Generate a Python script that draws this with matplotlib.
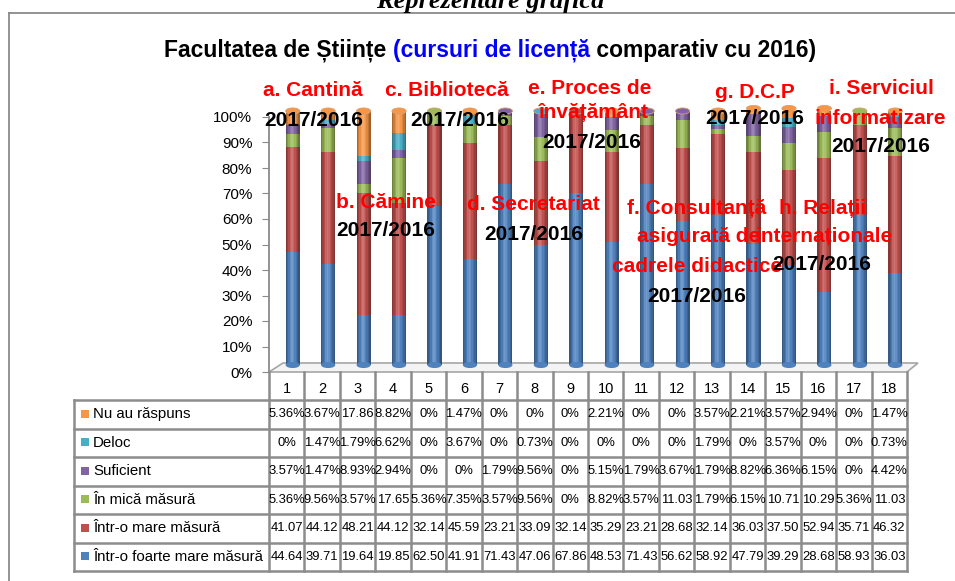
import numpy as np
import matplotlib.pyplot as plt
from matplotlib.patches import Ellipse, Polygon, Rectangle

W, H = 955, 581

categories = [str(i) for i in range(1, 19)]

# values in %
nu_au_raspuns = [5.36, 3.67, 17.86, 8.82, 0, 1.47, 0, 0, 0, 2.21, 0, 0, 3.57, 2.21, 3.57, 2.94, 0, 1.47]
deloc = [0, 1.47, 1.79, 6.62, 0, 3.67, 0, 0.73, 0, 0, 0, 0, 1.79, 0, 3.57, 0, 0, 0.73]
suficient = [3.57, 1.47, 8.93, 2.94, 0, 0, 1.79, 9.56, 0, 5.15, 1.79, 3.67, 1.79, 8.82, 6.36, 6.15, 0, 4.42]
in_mica = [5.36, 9.56, 3.57, 17.65, 5.36, 7.35, 3.57, 9.56, 0, 8.82, 3.57, 11.03, 1.79, 6.15, 10.71, 10.29, 5.36, 11.03]
mare = [41.07, 44.12, 48.21, 44.12, 32.14, 45.59, 23.21, 33.09, 32.14, 35.29, 23.21, 28.68, 32.14, 36.03, 37.50, 52.94, 35.71, 46.32]
foarte_mare = [44.64, 39.71, 19.64, 19.85, 62.50, 41.91, 71.43, 47.06, 67.86, 48.53, 71.43, 56.62, 58.92, 47.79, 39.29, 28.68, 58.93, 36.03]

# table order (top to bottom)
series_names = ["Nu au răspuns", "Deloc", "Suficient", "În mică măsură",
                "Într-o mare măsură", "Într-o foarte mare măsură"]
series_values = [nu_au_raspuns, deloc, suficient, in_mica, mare, foarte_mare]
series_colors = ["#F79646", "#4BACC6", "#8064A2", "#9BBB59", "#C0504D", "#4F81BD"]

# labels over the chart: (text, x, y, colour)
labels = [
    ("a. Cantină", 313, 91, "red"), ("2017/2016", 314, 120, "black"),
    ("c. Bibliotecă", 447, 91, "red"), ("2017/2016", 460, 120, "black"),
    ("e. Proces de", 590, 88, "red"), ("învățământ", 594, 112, "red"), ("2017/2016", 592, 143, "black"),
    ("g. D.C.P", 755, 92, "red"), ("2017/2016", 755, 119, "black"),
    ("i. Serviciul", 881, 88, "red"), ("informatizare", 880, 118, "red"), ("2017/2016", 881, 147, "black"),
    ("b. Cămine", 386, 202, "red"), ("2017/2016", 386, 230, "black"),
    ("d. Secretariat", 533, 204, "red"), ("2017/2016", 534, 234, "black"),
    ("f. Consultanță", 697, 209, "red"), ("asigurată de", 699, 237, "red"),
    ("cadrele didactice", 697, 267, "red"), ("2017/2016", 697, 297, "black"),
    ("h. Relații", 823, 209, "red"), ("internaționale", 824, 237, "red"), ("2017/2016", 822, 265, "black"),
]

FONT = ["Liberation Sans", "DejaVu Sans"]
plt.rcParams["font.family"] = FONT


def fig_rect(l, t, r, b):
    return [l / W, 1 - b / H, (r - l) / W, (b - t) / H]


fig = plt.figure(figsize=(W / 100, H / 100), dpi=100)

# background layer in pixel coordinates
bg = fig.add_axes([0, 0, 1, 1], zorder=0)
bg.set_xlim(0, W)
bg.set_ylim(H, 0)
bg.axis("off")

bg.text(490, 8, "Reprezentare grafică", family=["Liberation Serif", "DejaVu Serif"],
        style="italic", weight="bold", fontsize=19, ha="center", va="baseline")
bg.plot([9, W], [13, 13], color="#8a8a8a", lw=1.3)
bg.plot([9, 9], [13, H], color="#8a8a8a", lw=1.3)

# 3D floor
bg.add_patch(Polygon([(269, 372), (283, 363), (918, 363), (907, 372)], closed=True,
                     facecolor="#f4f4f4", edgecolor="#a6a6a6", lw=1.2))

# value axis
ax = fig.add_axes(fig_rect(269, 117, 907, 372), zorder=1)
ax.patch.set_visible(False)
ax.set_ylim(0, 1)
ax.set_xlim(0, 1)
ticks = np.arange(0, 1.01, 0.1)
ax.set_yticks(ticks)
ax.set_yticklabels([f"{int(round(t * 100))}%" for t in ticks])
ax.set_xticks([])
for s in ["top", "right", "bottom"]:
    ax.spines[s].set_visible(False)
ax.spines["left"].set_color("#8a8a8a")
ax.spines["left"].set_linewidth(1.3)
ax.tick_params(axis="y", direction="out", length=5, color="#8a8a8a", labelsize=11, pad=7)

# bars (3D cylinders shifted back a little)
bx = fig.add_axes(fig_rect(275, 111, 913, 365), zorder=2)
bx.set_xlim(-0.5, 17.5)
bx.set_ylim(0, 100)
bx.axis("off")
x = np.arange(len(categories))
bw = 0.4
bottom = np.zeros(len(categories))
top_color = [None] * len(categories)
for vals, col in zip(series_values[::-1], series_colors[::-1]):
    vals = np.array(vals)
    bx.bar(x, vals, bw, bottom=bottom, color=col, edgecolor="none")
    for i, v in enumerate(vals):
        if v > 0:
            top_color[i] = col
    bottom = bottom + vals
totals = bottom

# cylinder shading
n_strips = 10
shade = [0.30, 0.18, 0.05, -0.12, -0.2, -0.12, 0.0, 0.1, 0.22, 0.35]
for k in range(n_strips):
    off = -bw / 2 + bw / n_strips * (k + 0.5)
    a = shade[k]
    bx.bar(x + off, totals, bw / n_strips, color="black" if a > 0 else "white",
           alpha=abs(a), edgecolor="none", linewidth=0)

for i in range(len(categories)):
    bx.add_patch(Ellipse((x[i], 0), bw, 2.4, facecolor=series_colors[-1],
                         edgecolor="none", clip_on=False, zorder=1))
    bx.add_patch(Ellipse((x[i], totals[i]), bw, 2.4, facecolor=top_color[i],
                         edgecolor="#d9a070", lw=0.6, clip_on=False, zorder=3))

# data table
col_w = (907 - 269) / len(categories)
col_edges = 269 + col_w * np.arange(len(categories) + 1)
row_edges = np.linspace(400, 571, len(series_names) + 1)
grid = "#8c8c8c"
for yy in row_edges:
    bg.plot([74, 907], [yy, yy], color=grid, lw=1.8, zorder=3)
bg.plot([74, 74], [400, 571], color=grid, lw=1.8, zorder=3)
for xx in col_edges:
    bg.plot([xx, xx], [372, 571], color=grid, lw=1.8, zorder=3)

top = fig.add_axes([0, 0, 1, 1], zorder=5)
top.set_xlim(0, W)
top.set_ylim(H, 0)
top.axis("off")


def fmt(v):
    if v == 0:
        return "0%"
    if v < 10:
        return f"{v:.2f}%"
    return f"{v:.2f}"


centers = (col_edges[:-1] + col_edges[1:]) / 2
for c, lab in zip(centers, categories):
    top.text(c, 389, lab, ha="center", va="center", fontsize=10.5)
for r, (name, vals, col) in enumerate(zip(series_names, series_values, series_colors)):
    yc = (row_edges[r] + row_edges[r + 1]) / 2
    top.add_patch(Rectangle((81, yc - 4.5), 8, 8, facecolor=col, edgecolor="none"))
    top.text(93, yc, name, ha="left", va="center", fontsize=10.8)
    for c, v in zip(centers, vals):
        top.text(c, yc, fmt(v), ha="center", va="center", fontsize=9.4)

# title in three pieces
renderer = fig.canvas.get_renderer()
pieces = [("Facultatea de Științe ", "black"), ("(cursuri de licență", "#0000FF"),
          (" comparativ cu 2016)", "black")]
objs = [top.text(0, 50, t, color=c, fontsize=16.5, weight="bold", ha="left", va="center")
        for t, c in pieces]
widths = [o.get_window_extent(renderer).width for o in objs]
xpos = 490 - sum(widths) / 2
for o, w in zip(objs, widths):
    o.set_x(xpos)
    xpos += w

for t, xx, yy, c in labels:
    top.text(xx, yy, t, color=c, fontsize=15, weight="bold", ha="center", va="center")

fig.savefig("out.png", dpi=100)
